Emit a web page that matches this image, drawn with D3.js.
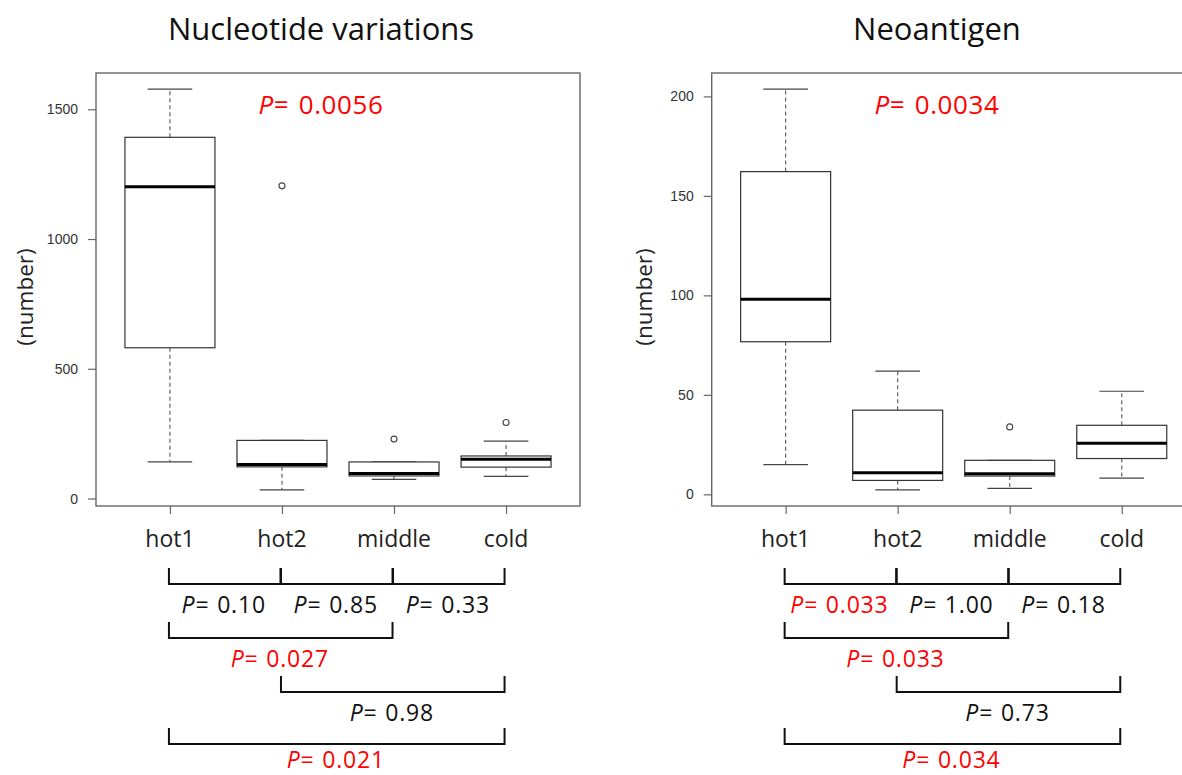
<!DOCTYPE html>
<html>
<head>
<meta charset="utf-8">
<script src="https://cdn.jsdelivr.net/npm/d3@7"></script>
<style>
  html, body { margin: 0; padding: 0; background: #fff; overflow: hidden; }
  svg { display: block; }
</style>
</head>
<body>
<svg id="chart" width="1182" height="775"></svg>
<script>
// ---------- data ----------
const categories = ["hot1", "hot2", "middle", "cold"];

// Nucleotide variations
const nucWhiskerLo = [141, 33, 74, 85];
const nucQ1        = [581, 122, 87, 121];
const nucMedian    = [1201, 131, 96, 151];
const nucQ3        = [1392, 224, 141, 164];
const nucWhiskerHi = [1578, 224, 141, 221];
const nucOutliers  = [[], [1205], [229], [293]];
const nucTicks     = [0, 500, 1000, 1500];
const nucOverallP  = "0.0056";
const nucPairP     = ["0.10", "0.85", "0.33", "0.027", "0.98", "0.021"];

// Neoantigen
const neoWhiskerLo = [14.9, 2.2, 3.0, 8.1];
const neoQ1        = [76.7, 7.0, 9.2, 18.0];
const neoMedian    = [98.1, 10.9, 10.4, 25.7];
const neoQ3        = [162.2, 42.3, 17.1, 34.7];
const neoWhiskerHi = [203.7, 61.9, 17.1, 51.8];
const neoOutliers  = [[], [], [33.9], []];
const neoTicks     = [0, 50, 100, 150, 200];
const neoOverallP  = "0.0034";
const neoPairP     = ["0.033", "1.00", "0.18", "0.033", "0.73", "0.034"];

// pairwise comparisons (category indices) and bracket row
const pairFrom = [0, 1, 2, 0, 1, 0];
const pairTo   = [1, 2, 3, 2, 3, 3];
const pairRow  = [0, 0, 0, 1, 2, 3];

const titles = ["Nucleotide variations", "Neoantigen"];
const yLabel = "(number)";

// ---------- layout ----------
const svg = d3.select("#chart");
const FONT = "'Open Sans', 'Noto Sans', sans-serif";
const TICKFONT = "'Liberation Sans', Arial, sans-serif";
const frameTop = 73, frameBottom = 506, frameW = 484;
const rowTop = [568, 622, 676, 728];
const rowText = [613, 667, 721, 768];
const bracketH = 16;

function pText(g, xPos, yPos, size, color, value, spacing, gap) {
  const t = g.append("text").attr("x", xPos).attr("y", yPos)
    .attr("text-anchor", "middle")
    .attr("font-family", FONT).attr("font-size", size).attr("fill", color)
    .attr("letter-spacing", spacing);
  t.append("tspan").attr("font-style", "italic").text("P");
  t.append("tspan").text("=");
  t.append("tspan").attr("dx", gap).text(" " + value);
  return t;
}

function panel(cfg) {
  const left = cfg.left;
  const x = d3.scaleLinear().domain([0.34, 4.66]).range([left, left + frameW]);
  const allVals = cfg.lo.concat(cfg.hi, cfg.out.flat());
  const mn = d3.min(allVals), mx = d3.max(allVals);
  const pad = (mx - mn) * 0.04;
  const y = d3.scaleLinear().domain([mn - pad, mx + pad]).range([frameBottom, frameTop]);
  const g = svg.append("g");

  // title
  g.append("text")
    .attr("x", cfg.titleX).attr("y", 40)
    .attr("text-anchor", "middle")
    .attr("font-family", FONT).attr("font-size", 31)
    .attr("fill", "#111")
    .text(cfg.title);

  // frame
  g.append("rect")
    .attr("x", left).attr("y", frameTop)
    .attr("width", frameW).attr("height", frameBottom - frameTop)
    .attr("fill", "none").attr("stroke", "#666").attr("stroke-width", 1.4);

  // y axis
  const yAxis = d3.axisLeft(y).tickValues(cfg.ticks).tickSize(8).tickPadding(10).tickFormat(d3.format("d"));
  const ya = g.append("g").attr("transform", `translate(${left},0)`).call(yAxis);
  ya.select(".domain").remove();
  ya.selectAll(".tick line").attr("stroke", "#666").attr("stroke-width", 1.2);
  ya.selectAll(".tick text").attr("font-family", TICKFONT).attr("font-size", 14).attr("fill", "#333");

  // x ticks
  const xa = d3.axisBottom(x).tickValues([1, 2, 3, 4]).tickSize(8).tickFormat("");
  const xg = g.append("g").attr("transform", `translate(0,${frameBottom})`).call(xa);
  xg.select(".domain").remove();
  xg.selectAll(".tick line").attr("stroke", "#666").attr("stroke-width", 1.2);

  // y label
  g.append("text")
    .attr("transform", `translate(${cfg.yLabelX},297) rotate(-90)`)
    .attr("text-anchor", "middle").attr("dominant-baseline", "central")
    .attr("font-family", FONT).attr("font-size", 22.5).attr("fill", "#222")
    .text(yLabel);

  // boxes
  const half = 45, cap = 22.3;
  categories.forEach((c, i) => {
    const cx = x(i + 1);
    [[cfg.q3[i], cfg.hi[i]], [cfg.q1[i], cfg.lo[i]]].forEach(([a, b]) => {
      if (a !== b) {
        g.append("line").attr("x1", cx).attr("x2", cx).attr("y1", y(a)).attr("y2", y(b))
          .attr("stroke", "#555").attr("stroke-width", 1.1).attr("stroke-dasharray", "4,3");
      }
    });
    [cfg.hi[i], cfg.lo[i]].forEach(v => {
      g.append("line").attr("x1", cx - cap).attr("x2", cx + cap).attr("y1", y(v)).attr("y2", y(v))
        .attr("stroke", "#444").attr("stroke-width", 1.2);
    });
    g.append("rect")
      .attr("x", cx - half).attr("y", y(cfg.q3[i]))
      .attr("width", 2 * half).attr("height", y(cfg.q1[i]) - y(cfg.q3[i]))
      .attr("fill", "#fff").attr("stroke", "#333").attr("stroke-width", 1.2);
    g.append("line").attr("x1", cx - half).attr("x2", cx + half)
      .attr("y1", y(cfg.med[i])).attr("y2", y(cfg.med[i]))
      .attr("stroke", "#000").attr("stroke-width", 3);
    cfg.out[i].forEach(v => {
      g.append("circle").attr("cx", cx).attr("cy", y(v)).attr("r", 3)
        .attr("fill", "none").attr("stroke", "#444").attr("stroke-width", 1.1);
    });
    g.append("text").attr("x", cx).attr("y", 547)
      .attr("text-anchor", "middle")
      .attr("font-family", FONT).attr("font-size", 23).attr("fill", "#222")
      .text(c);
  });

  // overall P
  pText(g, cfg.titleX, 114, 26, "#ff0000", cfg.overallP, 0.6, 2);

  // brackets
  pairFrom.forEach((a, k) => {
    const b = pairTo[k];
    const x1 = x(a + 1) - 1, x2 = x(b + 1) - 1.5;
    const r = pairRow[k];
    const t = rowTop[r], bt = rowTop[r] + bracketH;
    g.append("path")
      .attr("d", d3.line()([[x1, t], [x1, bt], [x2, bt], [x2, t]]))
      .attr("fill", "none").attr("stroke", "#111").attr("stroke-width", 2);
    const pv = cfg.pairP[k];
    const col = (+pv < 0.05) ? "#ff0000" : "#111";
    pText(g, (x1 + x2) / 2 - 1, rowText[r], 23, col, pv, 0.8, 1);
  });
}

panel({
  left: 96, titleX: 321, yLabelX: 24, title: titles[0],
  lo: nucWhiskerLo, q1: nucQ1, med: nucMedian, q3: nucQ3, hi: nucWhiskerHi, out: nucOutliers,
  ticks: nucTicks, overallP: nucOverallP, pairP: nucPairP
});
panel({
  left: 711.7, titleX: 937, yLabelX: 643, title: titles[1],
  lo: neoWhiskerLo, q1: neoQ1, med: neoMedian, q3: neoQ3, hi: neoWhiskerHi, out: neoOutliers,
  ticks: neoTicks, overallP: neoOverallP, pairP: neoPairP
});
</script>
</body>
</html>
